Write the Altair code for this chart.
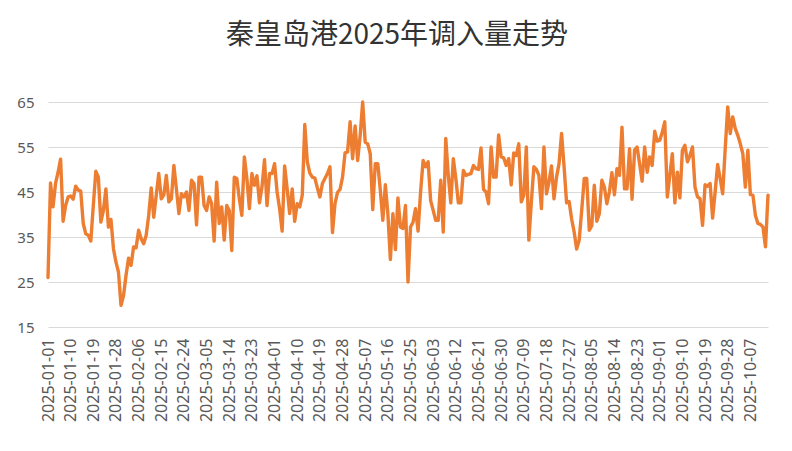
import altair as alt
import pandas as pd

title_text = "秦皇岛港2025年调入量走势"
start_date = "2025-01-01"

values_q1 = [26, 47, 41.7, 46.9, 49.4, 52.3, 38.5, 42, 43.9, 44.1, 43.4, 46.3, 45.4, 45.2,
             38, 35.7, 35.4, 34.1, 42, 49.6, 48.3, 38.3, 40.9, 45.7, 37.2, 38.9, 32.4, 29.4,
             27.2, 19.8, 22, 26.5, 30.3, 28.7, 32.8, 32.6, 36.5, 34.6, 33.5, 35.4, 39.8, 45.9,
             39.4, 44.3, 49.1, 43.5, 44.3, 48.7, 42.8, 43.5, 50.9, 45.7, 40.2, 44.6, 43.9, 45,
             40.9, 47.6, 46.9, 37.7, 48.3, 48.3, 42, 40.9, 43.9, 42.4, 34.1, 47.2, 38, 41.7,
             34.3, 42]
values_q2 = [40.9, 32, 48.3, 48, 43.5, 39.8, 52.8, 48, 41.3, 49.1, 46.5, 48.6, 42.6, 46.1,
             52.2, 42, 49.1, 49.1, 51.3, 45, 41.3, 36.3, 50.8, 45.7, 40.2, 45.7, 38.5, 42.4,
             41.7, 44.3, 60, 51.7, 49.2, 48.3, 48.1, 45.9, 43.9, 46.9, 48, 49.1, 50.6, 36,
             42.4, 44.9, 45.6, 48.3, 53.7, 53.9, 60.6, 52.4, 59.7, 52, 57.6, 65, 56.1, 55.7,
             53.5, 41.1, 51.3, 51.3, 45.4, 38.7, 46.6, 40.2, 30, 40.2, 32.2, 43.7, 37.2, 36.9,
             42, 25]
values_q3 = [37.2, 38.3, 41.3, 36.3, 45, 52, 50.6, 51.7, 43.1, 40.9, 38.7, 38.7, 47.6, 36.1,
             56.9, 48.7, 42.6, 52.4, 48, 42.6, 42.6, 49.8, 48.7, 48.9, 49.1, 50.9, 50.2, 50,
             54.8, 45.6, 45, 42.4, 55, 48.3, 48.3, 57.7, 52.8, 52.6, 50.9, 52.4, 46.6, 53.7,
             53.1, 55.7, 42.8, 44.3, 55, 34.3, 42.8, 50.6, 50, 48.7, 41.3, 55, 44.6, 47.2,
             50.8, 43.5, 48.3, 51.3, 58, 50.6, 42.6, 42.9, 39, 36.1, 32.3, 34.3, 40.9, 48,
             48, 36.5, 37.5]
values_q4 = [46.5, 38.5, 40.2, 47.6, 46.1, 42.4, 45, 49.3, 44.4, 50.2, 48.7, 59.4, 45.7, 45.7,
             54.6, 43.4, 54.3, 55, 51.3, 47.4, 55, 49.4, 52.8, 50.9, 58.5, 56.3, 56.5, 58.3,
             60.6, 43.9, 48.7, 53.5, 42.6, 49.4, 43.7, 54.3, 55.4, 51.7, 53.1, 55, 46.1, 43.9,
             43.5, 37.6, 46.6, 46.3, 46.9, 39.2, 45, 51.1, 48, 44.6, 54.6, 63.9, 58, 61.7,
             59.1, 57.6, 55.7, 53.5, 46.1, 54.3, 44.4, 44.3, 39.8, 38, 37.8, 37.2, 32.8, 44.3]

values = values_q1 + values_q2 + values_q3 + values_q4
dates = pd.date_range(start_date, periods=len(values), freq="D").strftime("%Y-%m-%d").tolist()
x_tick_labels = dates[::9]
y_ticks = [15, 25, 35, 45, 55, 65]

df = pd.DataFrame({"date": dates, "value": values})

chart = (
    alt.Chart(df)
    .mark_line(color="#ED7D31", strokeWidth=3.4, strokeJoin="round", strokeCap="round")
    .encode(
        x=alt.X(
            "date:O",
            sort=None,
            title=None,
            scale=alt.Scale(type="point", padding=0),
            axis=alt.Axis(values=x_tick_labels, labelAngle=-90, labelPadding=11,
                          labelFontSize=16, ticks=False, tickSize=0, domain=False, grid=False),
        ),
        y=alt.Y(
            "value:Q",
            title=None,
            scale=alt.Scale(domain=[15, 65], nice=False, zero=False),
            axis=alt.Axis(values=y_ticks, ticks=False, tickSize=0, domain=False, grid=True,
                          gridColor="#D9D9D9", gridWidth=1.2, labelPadding=14),
        ),
    )
    .properties(
        width=720,
        height=225,
        title=alt.Title(title_text, font="Noto Sans CJK SC", fontSize=28, fontWeight="normal",
                        color="#333333", anchor="middle", dx=-11, offset=45),
        padding={"left": 40, "top": 94, "right": 16, "bottom": 110},
        autosize=alt.AutoSizeParams(type="none"),
    )
    .configure_axis(labelFont="Noto Sans", labelFontSize=15, labelColor="#595959")
    .configure_view(stroke=None)
)

chart.save("out.html", embed_options={"renderer": "svg", "actions": False})
